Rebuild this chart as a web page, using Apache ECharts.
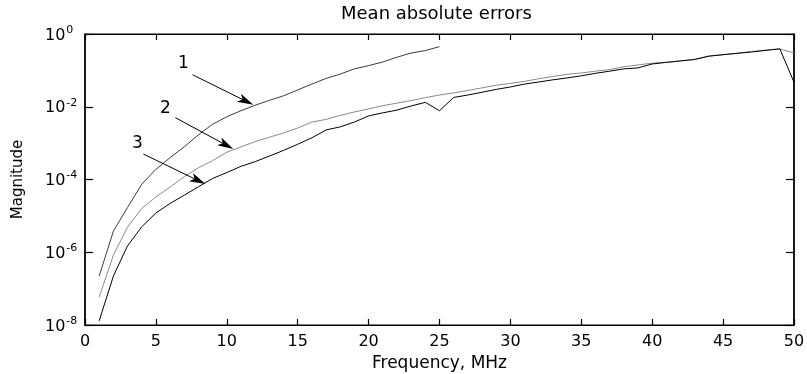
<!DOCTYPE html>
<html><head><meta charset="utf-8">
<script src="https://cdn.jsdelivr.net/npm/echarts@6/dist/echarts.min.js"></script>
<style>html,body{margin:0;padding:0;background:#fff}#c{width:807px;height:374px}</style>
</head><body><div id="c"></div>
<script>
const freq = [1,2,3,4,5,6,7,8,9,10,11,12,13,14,15,16,17,18,19,20,21,22,23,24,25,
  26,27,28,29,30,31,32,33,34,35,36,37,38,39,40,41,42,43,44,45,46,47,48,49,50];
const curve1 = [2.2e-7,3.8e-6,1.7e-5,7.4e-5,1.9e-4,4.0e-4,7.9e-4,1.7e-3,3.3e-3,5.3e-3,
  7.8e-3,1.1e-2,1.5e-2,2.0e-2,2.9e-2,4.2e-2,6.0e-2,7.9e-2,0.11,0.135,0.17,0.23,0.30,0.35,0.45];
const curve2 = [5.8e-8,8.3e-7,4.9e-6,1.6e-5,3.3e-5,6.2e-5,1.2e-4,2.1e-4,3.3e-4,5.6e-4,
  7.9e-4,1.1e-3,1.45e-3,1.9e-3,2.6e-3,3.8e-3,4.5e-3,5.8e-3,7.2e-3,8.7e-3,
  1.07e-2,1.26e-2,1.48e-2,1.78e-2,2.1e-2,2.4e-2,2.8e-2,3.3e-2,3.9e-2,4.4e-2,
  5.0e-2,5.9e-2,6.8e-2,7.8e-2,8.5e-2,9.5e-2,0.105,0.126,0.141,0.158,
  0.166,0.182,0.20,0.25,0.27,0.295,0.33,0.36,0.39,0.30];
const curve3 = [1.3e-8,2.2e-7,1.5e-6,5.0e-6,1.2e-5,2.2e-5,3.7e-5,6.3e-5,1.07e-4,1.55e-4,
  2.3e-4,3.1e-4,4.4e-4,6.3e-4,9.3e-4,1.4e-3,2.3e-3,2.8e-3,3.8e-3,5.6e-3,
  6.8e-3,8.1e-3,1.05e-2,1.32e-2,7.8e-3,1.8e-2,2.1e-2,2.5e-2,3.0e-2,3.5e-2,
  4.2e-2,4.8e-2,5.5e-2,6.2e-2,7.1e-2,8.3e-2,9.5e-2,0.11,0.117,0.15,
  0.166,0.182,0.20,0.245,0.27,0.295,0.32,0.355,0.39,0.047];
const seriesNames = ['1','2','3'];
// annotation labels and arrows (data coordinates)
const annLabels = ['1','2','3'];
const annText = [[6.94,0.155],[5.67,8.8e-3],[3.70,9.5e-4]];
const annFrom = [[7.58,0.076],[6.38,5.0e-3],[4.12,5.0e-4]];
const annTo = [[11.87,0.0113],[10.46,6.9e-4],[8.49,7.5e-5]];
const titleText = 'Mean absolute errors';
const xName = 'Frequency, MHz';
const yName = 'Magnitude';

const FONT = 'DejaVu Sans';
const chart = echarts.init(document.getElementById('c'), null, {renderer:'canvas'});
const mk = (ys) => ys.map((v,i)=>[freq[i], v]);
const colors = ['#3c3c3c','#8a8a8a','#000000'];
const option = {
  animation:false,
  backgroundColor:'#fff',
  title:{text:titleText, left:341, top:5, padding:0,
    textStyle:{fontFamily:FONT, fontSize:18, fontWeight:'normal', color:'#000'}},
  grid:{left:85, right:13, top:34, bottom:49, containLabel:false, outerBoundsMode:'none',
    show:true, borderColor:'#000', borderWidth:1, backgroundColor:'transparent'},
  xAxis:[{type:'value', min:0, max:50, interval:5, position:'bottom',
      name:xName, nameLocation:'middle', nameGap:30,
      nameTextStyle:{fontFamily:FONT, fontSize:17, color:'#000'},
      axisLine:{show:true, onZero:false, lineStyle:{color:'#000', width:1.2}},
      axisTick:{show:true, inside:true, length:6, lineStyle:{color:'#000', width:1.2}},
      axisLabel:{show:true, fontFamily:FONT, fontSize:16, color:'#000', margin:9},
      splitLine:{show:false}},
    {type:'value', min:0, max:50, interval:5, position:'top',
      axisLine:{show:true, onZero:false, lineStyle:{color:'#000', width:1.2}},
      axisTick:{show:true, inside:true, length:6, lineStyle:{color:'#000', width:1.2}},
      axisLabel:{show:false}, splitLine:{show:false}}],
  yAxis:[{type:'log', logBase:10, min:1e-8, max:1, interval:2, position:'left',
      name:yName, nameLocation:'middle', nameGap:59,
      nameTextStyle:{fontFamily:FONT, fontSize:15, color:'#000'},
      axisLine:{show:true, onZero:false, lineStyle:{color:'#000', width:1.6}},
      axisTick:{show:true, inside:true, length:8, lineStyle:{color:'#000', width:1.2}},
      axisLabel:{show:true, margin:40, align:'left',
        formatter:(v)=>'{b|10}{s|' + Math.round(Math.log10(v)) + '}',
        rich:{b:{fontFamily:FONT, fontSize:16, color:'#000', verticalAlign:'bottom', lineHeight:19},
              s:{fontFamily:FONT, fontSize:11, color:'#000', verticalAlign:'top', lineHeight:19, padding:[0,0,0,1]}}},
      splitLine:{show:false}},
    {type:'log', logBase:10, min:1e-8, max:1, interval:2, position:'right',
      axisLine:{show:true, onZero:false, lineStyle:{color:'#000', width:1.6}},
      axisTick:{show:true, inside:true, length:8, lineStyle:{color:'#000', width:1.2}},
      axisLabel:{show:false}, splitLine:{show:false}}],
  series:[curve1,curve2,curve3].map((c,i)=>({
    name:seriesNames[i], type:'line', data:mk(c), showSymbol:false, symbol:'none',
    xAxisIndex:0, yAxisIndex:0,
    lineStyle:{color:colors[i], width:1}, itemStyle:{color:colors[i]}, z:2}))
};
chart.setOption(option);

const els = [];
for (let i=0;i<annLabels.length;i++){
  const f = {xAxisIndex:0, yAxisIndex:0};
  const p0 = chart.convertToPixel(f, annFrom[i]);
  const p1 = chart.convertToPixel(f, annTo[i]);
  const pt = chart.convertToPixel(f, annText[i]);
  const dx=p1[0]-p0[0], dy=p1[1]-p0[1], L=Math.hypot(dx,dy);
  const ux=dx/L, uy=dy/L, HL=16, HW=4.5;
  const bx=p1[0]-ux*HL, by=p1[1]-uy*HL;
  els.push({type:'line', shape:{x1:p0[0],y1:p0[1],x2:bx+ux*4,y2:by+uy*4}, style:{stroke:'#000', lineWidth:1}, z:10});
  els.push({type:'polygon', shape:{points:[[p1[0],p1[1]],[bx-uy*HW,by+ux*HW],[bx+ux*4,by+uy*4],[bx+uy*HW,by-ux*HW]]}, style:{fill:'#000'}, z:10});
  els.push({type:'text', x:pt[0], y:pt[1], style:{text:annLabels[i], fontFamily:FONT, fontSize:17, fill:'#000', align:'center', verticalAlign:'middle'}, z:10});
}
chart.setOption({graphic:{elements:els}});
</script></body></html>
